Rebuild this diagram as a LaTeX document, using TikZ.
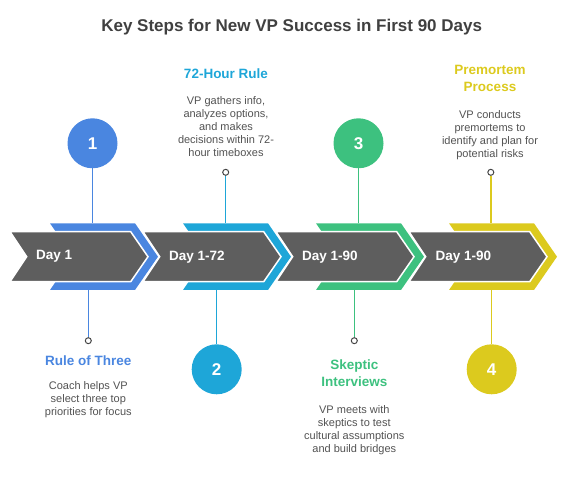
\documentclass[tikz,border=0pt]{standalone}
\usepackage{fontspec}
\setmainfont{Liberation Sans}
\definecolor{cblue}{HTML}{4A86E0}
\definecolor{ccyan}{HTML}{1EA6D8}
\definecolor{cgreen}{HTML}{3DC17F}
\definecolor{cyellow}{HTML}{DCCA1E}
\definecolor{chgrey}{HTML}{5E5E5E}
\definecolor{titlegrey}{HTML}{404040}
\definecolor{descgrey}{HTML}{525252}
\definecolor{dotgrey}{HTML}{444444}
\begin{document}
\begin{tikzpicture}[x=1pt,y=-1pt,
  greybox/.style={fill=chgrey,draw=white,line width=1.5pt,line join=miter},
  stem/.style={draw=#1,line width=1.5pt},
  bignum/.style={circle,fill=#1,minimum size=50pt,inner sep=0pt,text=white,font=\bfseries\fontsize{17}{17}\selectfont},
  dot/.style={circle,draw=dotgrey,fill=white,line width=1pt,minimum size=6pt,inner sep=0pt},
  head/.style={text=#1,font=\bfseries\fontsize{13.5}{17}\selectfont,align=center},
  desc/.style={text=descgrey,font=\fontsize{11}{13}\selectfont,align=center},
  daylabel/.style={text=white,font=\bfseries\fontsize{13.5}{14}\selectfont,anchor=west,inner sep=0pt}
]
\useasboundingbox (0,0) rectangle (570,486);

% title
\node[font=\bfseries\fontsize{17}{20}\selectfont,text=titlegrey] (title) at (291.7,27.5) {Key Steps for New VP Success in First 90 Days};

% chevrons
\foreach \i/\col in {0/cblue,1/ccyan,2/cgreen,3/cyellow}{
  \begin{scope}[xshift=\i*133pt]
    \fill[\col] (50,223.3) -- (135,223.3) -- (158,256.7) -- (135,290) -- (50,290) -- (73,256.7) -- cycle;
    \draw[greybox] (10,231.7) -- (130.7,231.7) -- (148,256.7) -- (130.7,281.7) -- (10,281.7) -- (26.7,256.7) -- cycle;
  \end{scope}
}

% day labels
\node[daylabel] (day1) at (36,256.7) {Day 1};
\node[daylabel] (day2) at (169,256.7) {Day 1-72};
\node[daylabel] (day3) at (302,256.7) {Day 1-90};
\node[daylabel] (day4) at (435.5,256.7) {Day 1-90};

% band attachment points
\coordinate (t1) at (92.5,223.3);
\coordinate (b1) at (88.3,290);
\coordinate (t2) at (225.7,223.3);
\coordinate (b2) at (216.7,290);
\coordinate (t3) at (358.5,223.3);
\coordinate (b3) at (354.3,290);
\coordinate (t4) at (490.8,223.3);
\coordinate (b4) at (491.7,290);

% number circles
\node[bignum=cblue] (n1) at (92.5,143.3) {1};
\node[bignum=ccyan] (n2) at (216.7,369.3) {2};
\node[bignum=cgreen] (n3) at (358.5,143.3) {3};
\node[bignum=cyellow] (n4) at (491.7,369.3) {4};

% small dots
\node[dot] (d1) at (88.3,340.7) {};
\node[dot] (d2) at (225.7,172.3) {};
\node[dot] (d3) at (354.3,340.7) {};
\node[dot] (d4) at (490.8,172.3) {};

% stems
\draw[stem=cblue] (n1) -- (t1);
\draw[stem=cblue] (b1) -- (d1);
\draw[stem=ccyan] (d2) -- (t2);
\draw[stem=ccyan] (b2) -- (n2);
\draw[stem=cgreen] (n3) -- (t3);
\draw[stem=cgreen] (b3) -- (d3);
\draw[stem=cyellow] (d4) -- (t4);
\draw[stem=cyellow] (b4) -- (n4);

% texts
\node[head=ccyan] (h2) at (226,74) {72-Hour Rule};
\node[desc] (p2) at (226,126.4) {VP gathers info,\\analyzes options,\\and makes\\decisions within 72-\\hour timeboxes};
\node[head=cyellow] (h4) at (490,78.3) {Premortem\\Process};
\node[desc] (p4) at (490,134.7) {VP conducts\\premortems to\\identify and plan for\\potential risks};
\node[head=cblue] (h1) at (88.3,361) {Rule of Three};
\node[desc] (p1) at (88.3,400) {Coach helps VP\\select three top\\priorities for focus};
\node[head=cgreen] (h3) at (354.3,373.5) {Skeptic\\Interviews};
\node[desc] (p3) at (354.3,430.2) {VP meets with\\skeptics to test\\cultural assumptions\\and build bridges};
\end{tikzpicture}
\end{document}
